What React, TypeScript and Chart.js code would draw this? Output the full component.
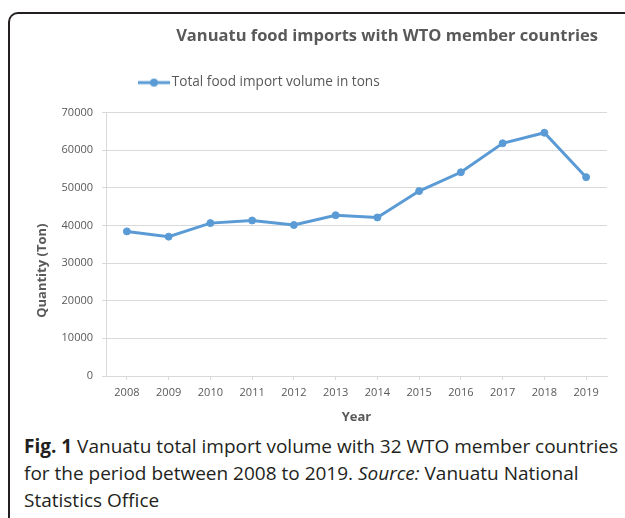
import React, { useEffect, useRef } from 'react';
import { Chart, registerables } from 'chart.js';

Chart.register(...registerables);

// ---- data ----
const years = ['2008', '2009', '2010', '2011', '2012', '2013', '2014', '2015', '2016', '2017', '2018', '2019'];
const importTons = [38400, 37000, 40600, 41300, 40100, 42700, 42100, 49100, 54100, 61800, 64600, 52800];
const yTickValues = [0, 10000, 20000, 30000, 40000, 50000, 60000, 70000];

const chartTitle = 'Vanuatu food imports with WTO member countries';
const seriesLabel = 'Total food import volume in tons';
const yAxisTitle = 'Quantity (Ton)';
const xAxisTitle = 'Year';

// ---- style ----
const FONT = "'Open Sans', sans-serif";
const BLUE = '#5b9bd5';
const GRAY = '#595959';
const GRID = '#d9d9d9';
const INK = '#231f20';

function makeLegendMarker(): HTMLCanvasElement {
  const c = document.createElement('canvas');
  c.width = 32;
  c.height = 10;
  const ctx = c.getContext('2d')!;
  ctx.strokeStyle = BLUE;
  ctx.lineWidth = 3;
  ctx.beginPath();
  ctx.moveTo(0, 5);
  ctx.lineTo(32, 5);
  ctx.stroke();
  ctx.fillStyle = BLUE;
  ctx.beginPath();
  ctx.arc(16, 5, 4, 0, Math.PI * 2);
  ctx.fill();
  return c;
}

const layoutTweaks = {
  id: 'layoutTweaks',
  afterInit(chart: any) {
    const lg = chart.legend;
    if (lg && !lg.__patched) {
      const fit = lg.fit;
      lg.fit = function () {
        fit.call(this);
        this.height += 13;
      };
      lg.__patched = true;
    }
  },
  afterLayout(chart: any) {
    const lg = chart.legend;
    if (lg) {
      lg.left = 113;
    }
    const t = chart.titleBlock;
    if (t) {
      t.left = 147;
      t.right = 587;
    }
    const y = chart.scales.y;
    if (y && !y.__patched) {
      const dt = y.drawTitle;
      y.drawTitle = function () {
        const top = this.top;
        this.top = top + 53;
        dt.call(this);
        this.top = top;
      };
      y.__patched = true;
    }
  },
};

export default function App() {
  const ref = useRef<HTMLCanvasElement>(null);

  useEffect(() => {
    if (!ref.current) return;
    const marker = makeLegendMarker();
    const chart = new Chart(ref.current, {
      type: 'line',
      data: {
        labels: years,
        datasets: [
          {
            label: seriesLabel,
            data: importTons,
            borderColor: BLUE,
            backgroundColor: BLUE,
            borderWidth: 3,
            pointRadius: 3.5,
            pointBorderWidth: 1,
            pointBackgroundColor: BLUE,
            pointBorderColor: BLUE,
            tension: 0,
            fill: false,
          },
        ],
      },
      options: {
        animation: false,
        responsive: false,
        events: [],
        layout: { padding: { left: 0, right: 18, top: 0, bottom: 6 } },
        plugins: {
          title: {
            display: true,
            text: chartTitle,
            color: GRAY,
            font: { family: FONT, size: 16.5, weight: 'bold' },
            padding: { top: 4, bottom: 20 },
          },
          legend: {
            display: true,
            position: 'top',
            align: 'start',
            labels: {
              color: GRAY,
              font: { family: FONT, size: 13.6 },
              usePointStyle: true,
              pointStyleWidth: 22,
              padding: 10,
              generateLabels: (c: any) =>
                Chart.defaults.plugins.legend.labels
                  .generateLabels(c)
                  .map((l: any) => ({ ...l, pointStyle: marker })),
            },
          },
          tooltip: { enabled: false },
        },
        scales: {
          x: {
            type: 'category',
            offset: true,
            grid: { display: true, drawOnChartArea: false, tickLength: 4, color: GRID, offset: false },
            border: { color: GRID },
            ticks: { color: GRAY, font: { family: FONT, size: 11 }, padding: 6, maxRotation: 0, autoSkip: false },
            title: {
              display: true,
              text: xAxisTitle,
              color: GRAY,
              font: { family: FONT, size: 13, weight: 'bold' },
              padding: { top: 0, bottom: 1 },
            },
            afterFit: (s: any) => {
              s.height = 50;
            },
          },
          y: {
            min: yTickValues[0],
            max: yTickValues[yTickValues.length - 1],
            grid: { color: GRID, tickLength: 4 },
            border: { color: GRID },
            ticks: {
              color: GRAY,
              font: { family: FONT, size: 11 },
              padding: 9,
              callback: (v: any) => String(v),
            },
            afterBuildTicks: (s: any) => {
              s.ticks = yTickValues.map((v) => ({ value: v }));
            },
            title: {
              display: true,
              text: yAxisTitle,
              color: GRAY,
              font: { family: FONT, size: 13, weight: 'bold' },
              padding: { top: 14, bottom: 0 },
            },
            afterFit: (s: any) => {
              s.width = 86;
            },
          },
        },
      },
      plugins: [layoutTweaks],
    } as any);
    return () => chart.destroy();
  }, []);

  return (
    <div
      style={{
        position: 'fixed',
        left: 0,
        top: 0,
        width: 625,
        height: 518,
        overflow: 'hidden',
        background: '#fff',
        fontFamily: FONT,
      }}
    >
      <div
        style={{
          position: 'absolute',
          left: 8,
          top: 12,
          width: 700,
          height: 600,
          borderTop: `2px solid ${INK}`,
          borderLeft: `2px solid ${INK}`,
          borderTopLeftRadius: 10,
        }}
      />
      <canvas ref={ref} width={605} height={410} style={{ position: 'absolute', left: 20, top: 22 }} />
      <div
        style={{
          position: 'absolute',
          left: 24,
          top: 433,
          fontSize: 19,
          lineHeight: '27px',
          color: INK,
          whiteSpace: 'nowrap',
        }}
      >
        <b>Fig. 1</b> Vanuatu total import volume with 32 WTO member countries
        <br />
        for the period between 2008 to 2019. <i>Source:</i> Vanuatu National
        <br />
        Statistics Office
      </div>
    </div>
  );
}
